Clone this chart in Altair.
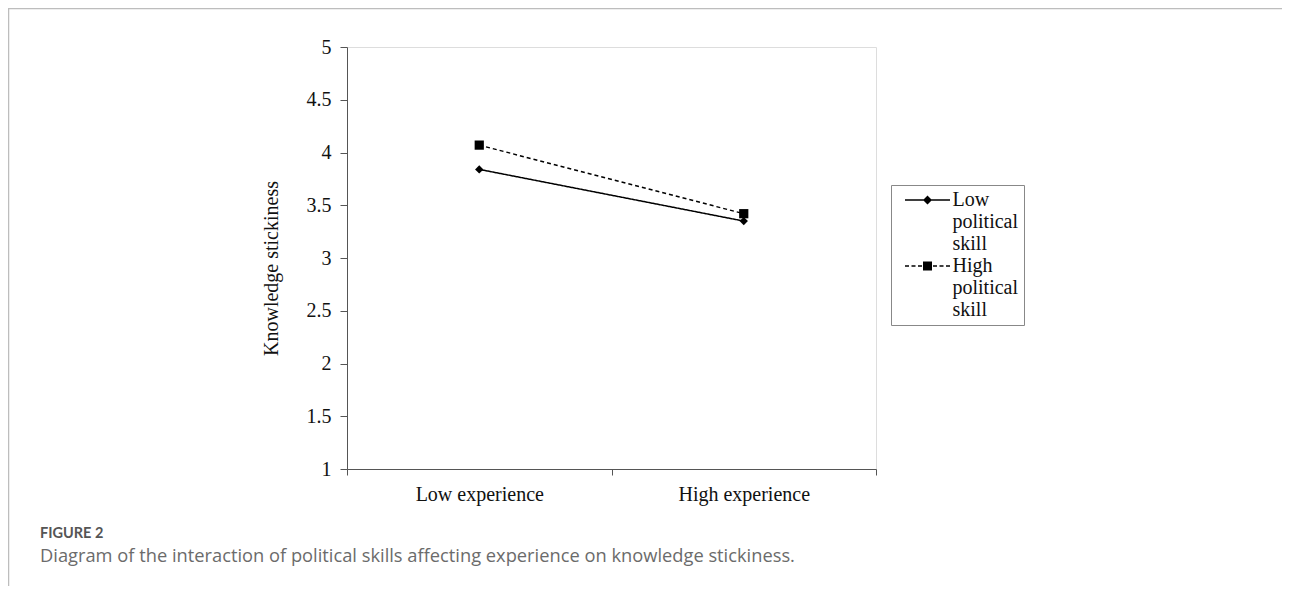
import altair as alt
import pandas as pd

# ---- data ----
experience = ["Low experience", "High experience"]
series = ["Low political skill", "High political skill"]
low_skill = [3.84, 3.35]
high_skill = [4.07, 3.42]
y_ticks = [1, 1.5, 2, 2.5, 3, 3.5, 4, 4.5, 5]
figure_label = "FIGURE 2"
figure_caption = "Diagram of the interaction of political skills affecting experience on knowledge stickiness."

rows = []
for i, e in enumerate(experience):
    rows.append({"experience": e, "series": series[0], "value": low_skill[i]})
    rows.append({"experience": e, "series": series[1], "value": high_skill[i]})
df = pd.DataFrame(rows)

SERIF = "Liberation Serif"
dash_range = [[1, 0], [4, 3]]

# legend symbols (unit = 8 px): filled line / dashes with the marker in the middle
low_sym = ("M-2.8125,-0.094H2.8125V0.094H-2.8125Z"
           "M0,-0.5625L0.5625,0L0,0.5625L-0.5625,0Z")
high_sym = ("M-2.8125,-0.094H-2.3125V0.094H-2.8125Z"
            "M-2,-0.094H-1.5V0.094H-2Z"
            "M-1.1875,-0.094H-0.6875V0.094H-1.1875Z"
            "M0.6875,-0.094H1.1875V0.094H0.6875Z"
            "M1.5,-0.094H2V0.094H1.5Z"
            "M2.3125,-0.094H2.8125V0.094H2.3125Z"
            "M-0.5625,-0.5625H0.5625V0.5625H-0.5625Z")

x_enc = alt.X(
    "experience:N",
    sort=experience,
    scale=alt.Scale(paddingInner=0, paddingOuter=0),
    axis=alt.Axis(
        title=None, labelAngle=0, tickBand="extent", tickSize=6,
        labelPadding=9, labelFont=SERIF, labelFontSize=20, labelColor="#111",
        domainColor="#555", tickColor="#555",
    ),
)
y_enc = alt.Y(
    "value:Q",
    scale=alt.Scale(domain=[1, 5], nice=False, zero=False),
    axis=alt.Axis(
        title="Knowledge stickiness", values=y_ticks, format="~g", grid=False,
        tickSize=7, labelPadding=9, labelFont=SERIF, labelFontSize=20,
        labelColor="#111", domainColor="#555", tickColor="#555",
        titleFont=SERIF, titleFontSize=20, titleFontWeight="normal",
        titleColor="#111", titleAngle=270, titleX=-76, titleY=221,
        titleAlign="center", titleBaseline="middle",
    ),
)

base = alt.Chart(df)

lines = base.mark_line(color="black", strokeWidth=1.5).encode(
    x=x_enc,
    y=y_enc,
    strokeDash=alt.StrokeDash(
        "series:N", scale=alt.Scale(domain=series, range=dash_range), legend=None
    ),
    detail="series:N",
)

points = base.mark_point(filled=True, color="black", opacity=1).encode(
    x=x_enc,
    y=y_enc,
    shape=alt.Shape(
        "series:N", scale=alt.Scale(domain=series, range=["diamond", "square"]),
        legend=None,
    ),
    size=alt.Size(
        "series:N", scale=alt.Scale(domain=series, range=[70, 85]), legend=None
    ),
)

legend_layer = base.transform_filter("false").mark_point(
    filled=True, color="black", opacity=1
).encode(
    shape=alt.Shape(
        "series:N", scale=alt.Scale(domain=series, range=[low_sym, high_sym]),
        legend=alt.Legend(
            title=None, orient="none", legendX=544, legendY=138,
            labelExpr="split(datum.label, ' ')",
            labelFont=SERIF, labelFontSize=20, labelColor="#111",
            labelBaseline="middle", labelOffset=15, labelLimit=300,
            symbolSize=256, symbolOffset=21.5, symbolFillColor="black",
            symbolStrokeColor="transparent", symbolStrokeWidth=0,
            symbolOpacity=1,
            strokeColor="#888", padding=5, rowPadding=2, fillColor="white",
        ),
    ),
)

one = alt.Chart(pd.DataFrame({"k": [0]}))
frame_v = one.mark_rule(color="#bdbdbd", strokeWidth=1.5).encode(
    x=alt.value(-338.5), y=alt.value(-38.5), y2=alt.value(539)
)
frame_h = one.mark_rule(color="#bdbdbd", strokeWidth=1.5).encode(
    x=alt.value(-339), x2=alt.value(935), y=alt.value(-38.5)
)
fig_label = one.mark_text(
    text=figure_label, align="left", baseline="middle", font="Lato",
    fontSize=14.5, fontWeight="bold", color="#555",
).encode(x=alt.value(-307), y=alt.value(487))
fig_caption = one.mark_text(
    text=figure_caption, align="left", baseline="middle", font="Open Sans",
    fontSize=18.3, color="#6b6b6b",
).encode(x=alt.value(-307), y=alt.value(510))

chart = (
    alt.layer(frame_v, frame_h, fig_label, fig_caption, lines, points, legend_layer)
    .resolve_scale(shape="independent")
    .resolve_legend(shape="independent")
    .properties(
        width=529,
        height=422,
        padding={"left": 339, "top": 39, "right": 406, "bottom": 117},
        autosize=alt.AutoSizeParams(type="none"),
    )
    .configure_view(stroke="#999", strokeWidth=1.5)
    .configure(background="white")
)

chart.save("out.html", embed_options={"renderer": "svg", "actions": False})
